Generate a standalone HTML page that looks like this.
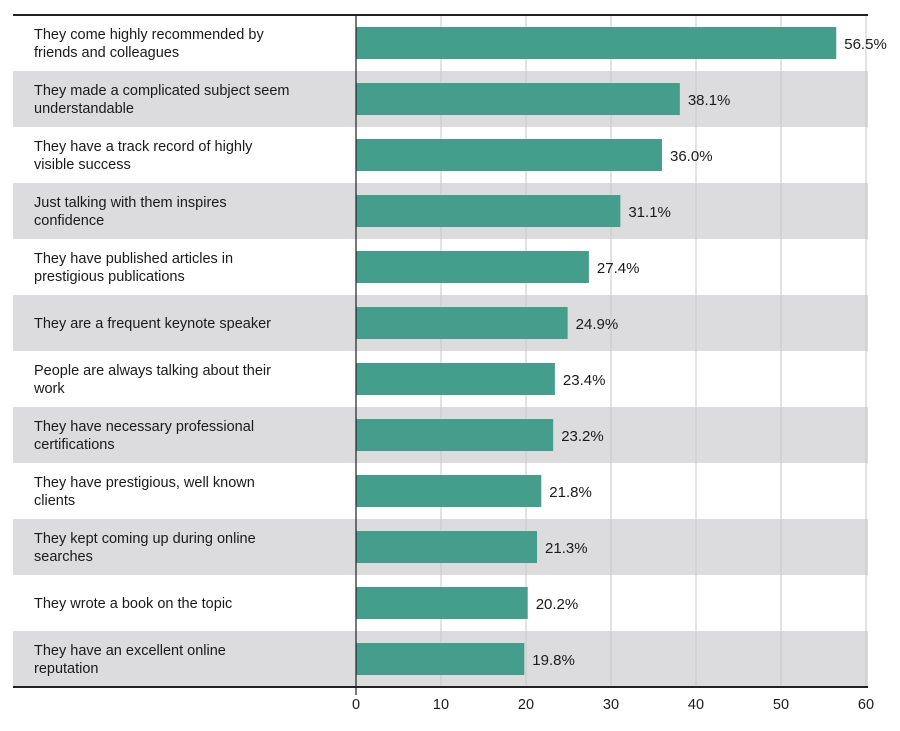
<!DOCTYPE html>
<html><head><meta charset="utf-8"><style>
body{margin:0;background:#fff;font-family:"Liberation Sans",sans-serif;}
svg text{font-family:"Liberation Sans",sans-serif;}
</style></head><body>
<svg width="900" height="726">
<g id="rows"></g><g id="grid"></g><g id="bars"></g>
</svg>
<script>
const categories=[["They come highly recommended by","friends and colleagues"],["They made a complicated subject seem","understandable"],["They have a track record of highly","visible success"],["Just talking with them inspires","confidence"],["They have published articles in","prestigious publications"],["They are a frequent keynote speaker"],["People are always talking about their","work"],["They have necessary professional","certifications"],["They have prestigious, well known","clients"],["They kept coming up during online","searches"],["They wrote a book on the topic"],["They have an excellent online","reputation"]];
const values=[56.5,38.1,36.0,31.1,27.4,24.9,23.4,23.2,21.8,21.3,20.2,19.8];
const valueLabels=["56.5%","38.1%","36.0%","31.1%","27.4%","24.9%","23.4%","23.2%","21.8%","21.3%","20.2%","19.8%"];
const ticks=[0,10,20,30,40,50,60];
const NS="http://www.w3.org/2000/svg";
const x0=356,x1=866,topY=15,rowH=56,left=13;
const xs=v=>x0+(v-0)/60*(x1-x0);
const ys=i=>topY+i*rowH;
function mk(t,a,p){const e=document.createElementNS(NS,t);for(const k in a)e.setAttribute(k,a[k]);p.appendChild(e);return e;}
const rowsG=document.getElementById('rows'),gridG=document.getElementById('grid'),barsG=document.getElementById('bars');
const bottomY=ys(categories.length);
categories.forEach((c,i)=>{
  const r=mk('rect',{x:left,y:ys(i),width:x1+2-left,height:rowH,fill:i%2?'#dcdcde':'#fff'},rowsG);
  
  
  const t=mk('text',{x:34,'font-size':14.5,fill:'#1a1a1a'},rowsG);
  
  
  const y0=ys(i)+rowH/2+5-(c.length-1)*9;
  c.forEach((s,j)=>{const ts=mk('tspan',{x:34,y:y0+j*18},t);ts.textContent=s;});
});
ticks.forEach(v=>{
  if(v>0){const g=mk('line',{x1:xs(v),x2:xs(v),y1:topY,y2:bottomY,stroke:'#c8c8c8','stroke-width':1},gridG);
  
  }
  const t=mk('text',{x:xs(v),y:bottomY+22,'font-size':14.5,'text-anchor':'middle',fill:'#1a1a1a'},gridG);
  t.textContent=v;
  
  
});
values.forEach((v,i)=>{
  const b=mk('rect',{x:xs(0),y:ys(i)+12,width:xs(v)-xs(0),height:32,fill:'#459e8c'},barsG);
  
  
  const t=mk('text',{x:xs(v)+8,y:ys(i)+34,'font-size':15,fill:'#1a1a1a'},barsG);
  t.textContent=valueLabels[i];
  
  
});
const ax=mk('line',{x1:xs(0),x2:xs(0),y1:topY,y2:bottomY+8,stroke:'#222','stroke-width':1.2},barsG);


const tl=mk('line',{x1:left,x2:x1+2,y1:topY,y2:topY,stroke:'#222','stroke-width':2},barsG);


const bl=mk('line',{x1:left,x2:x1+2,y1:bottomY,y2:bottomY,stroke:'#222','stroke-width':2},barsG);


</script>
</body></html>
